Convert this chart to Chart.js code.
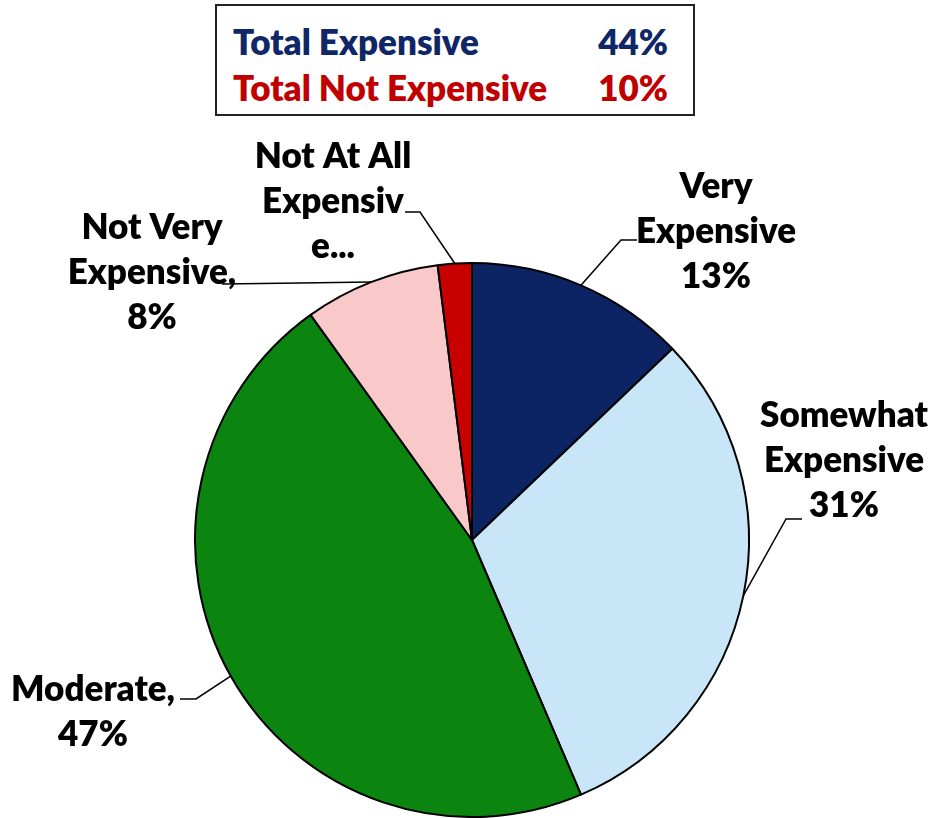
<!DOCTYPE html>
<html>
<head>
<meta charset="utf-8">
<script src="https://cdn.jsdelivr.net/npm/chart.js@4.4.1/dist/chart.umd.min.js"></script>
<style>
  html, body { margin: 0; padding: 0; background: #fff; }
  #wrap { position: relative; width: 931px; height: 818px; }
  #box {
    position: absolute; left: 215px; top: 4px; width: 480px; height: 112px;
    border: 2px solid #222; box-sizing: border-box; background: #fff;
    font-family: Lato, "Open Sans", sans-serif; font-weight: 800; font-size: 35px;
  }
  .row { position: absolute; left: 16px; right: 25px; display: flex; justify-content: space-between; line-height: 1; }
  .navy { color: #0f2766; }
  .red { color: #c00000; }
</style>
</head>
<body>
<div id="wrap">
  <canvas id="pie" width="931" height="818"></canvas>
  <div id="box">
    <div class="row navy" style="top:18px"><span>Total Expensive</span><span>44%</span></div>
    <div class="row red" style="top:64px"><span>Total Not Expensive</span><span>10%</span></div>
  </div>
</div>
<script>
// slices, clockwise from 12 o'clock
const categories = ['Very Expensive', 'Somewhat Expensive', 'Moderate', 'Not Very Expensive', 'Not At All Expensive'];
const values = [13, 31, 47, 8, 2];
const sliceColors = ['#0c2463', '#c8e6f8', '#0b850f', '#f9c9ca', '#c80000'];

// label text lines as shown next to each slice
const labelText = [
  ['Very', 'Expensive', '13%'],
  ['Somewhat', 'Expensive', '31%'],
  ['Moderate,', '47%'],
  ['Not Very', 'Expensive,', '8%'],
  ['Not At All', 'Expensiv', 'e...']
];

// where each label block sits and how its leader line bends
const labelPlace = [
  { x: 716, y: 187, elbow: [621, 240], end: [637, 240] },
  { x: 844, y: 416, elbow: [786, 519], end: [802, 519] },
  { x: 93, y: 690, elbow: [196, 699], end: [180, 699] },
  { x: 152, y: 228, elbow: [300, 283], end: [222, 284] },
  { x: 333, y: 157, elbow: [420, 212], end: [405, 212] }
];

const lineGap = 45;

const labelPlugin = {
  id: 'sliceLabels',
  afterDatasetsDraw(chart) {
    const ctx = chart.ctx;
    const arcs = chart.getDatasetMeta(0).data;
    ctx.save();
    arcs.forEach((arc, i) => {
      const mid = (arc.startAngle + arc.endAngle) / 2;
      const ax = arc.x + Math.cos(mid) * arc.outerRadius;
      const ay = arc.y + Math.sin(mid) * arc.outerRadius;
      const p = labelPlace[i];
      ctx.strokeStyle = '#000';
      ctx.lineWidth = 1.5;
      ctx.beginPath();
      ctx.moveTo(ax, ay);
      ctx.lineTo(p.elbow[0], p.elbow[1]);
      ctx.lineTo(p.end[0], p.end[1]);
      ctx.stroke();

      ctx.fillStyle = '#000';
      ctx.font = '800 35px Lato, "Open Sans", sans-serif';
      ctx.textAlign = 'center';
      ctx.textBaseline = 'middle';
      labelText[i].forEach((t, j) => {
        ctx.fillText(t, p.x, p.y + j * lineGap);
      });
    });
    ctx.restore();
  }
};

new Chart(document.getElementById('pie'), {
  type: 'pie',
  data: {
    labels: categories,
    datasets: [{
      data: values,
      backgroundColor: sliceColors,
      borderColor: '#000',
      borderWidth: 2
    }]
  },
  options: {
    responsive: false,
    animation: false,
    layout: { padding: { top: 262, left: 194, right: 181, bottom: 0 } },
    plugins: {
      legend: { display: false },
      tooltip: { enabled: false }
    }
  },
  plugins: [labelPlugin]
});
</script>
</body>
</html>
